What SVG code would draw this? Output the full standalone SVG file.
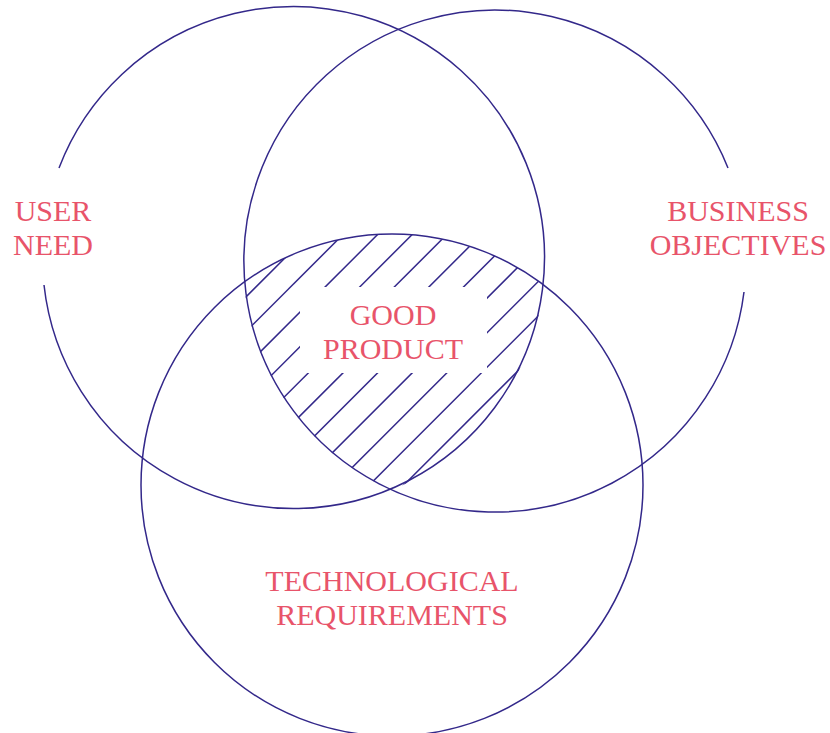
<svg xmlns="http://www.w3.org/2000/svg" width="830" height="733" viewBox="0 0 830 733">
  <style>
    .ring { fill: none; stroke: #33288a; stroke-width: 1.5; }
    .hatch { stroke: #33288a; stroke-width: 1.5; fill: none; }
    .label { font-family: "Liberation Serif", "DejaVu Serif", serif; font-size: 30px; fill: #e8546a; text-anchor: middle; }
  </style>
  <defs>
    <clipPath id="clipLeft"><circle cx="294" cy="259" r="251"/></clipPath>
    <clipPath id="clipRight" clip-path="url(#clipLeft)"><circle cx="494" cy="261" r="251"/></clipPath>
    <clipPath id="clipAll" clip-path="url(#clipRight)"><circle cx="392" cy="485" r="251"/></clipPath>
    <mask id="textGap" maskUnits="userSpaceOnUse" x="0" y="0" width="830" height="733">
      <rect x="0" y="0" width="830" height="733" fill="#fff"/>
      <rect x="300" y="287" width="187" height="86" fill="#000"/>
    </mask>
  </defs>
  <rect width="830" height="733" fill="#fff"/>
  <g id="connectors"/>
  <g id="user-need">
    <path class="ring" d="M 59 168 A 251 251 0 1 1 44 285"/>
    <text class="label" x="53" y="221">USER</text>
    <text class="label" x="53" y="255">NEED</text>
  </g>
  <g id="business-objectives">
    <path class="ring" d="M 744 292 A 251 251 0 1 1 728 168"/>
    <text class="label" x="738" y="221">BUSINESS</text>
    <text class="label" x="738" y="255">OBJECTIVES</text>
  </g>
  <g id="technological-requirements">
    <circle class="ring" cx="392" cy="485" r="251"/>
    <text class="label" x="392" y="591">TECHNOLOGICAL</text>
    <text class="label" x="392" y="625">REQUIREMENTS</text>
  </g>
  <g id="good-product">
    <g clip-path="url(#clipAll)">
      <g class="hatch" mask="url(#textGap)">
        <line x1="362.9" y1="180" x2="22.9" y2="520"/>
        <line x1="397.5" y1="180" x2="57.5" y2="520"/>
        <line x1="432.1" y1="180" x2="92.1" y2="520"/>
        <line x1="466.7" y1="180" x2="126.7" y2="520"/>
        <line x1="501.3" y1="180" x2="161.3" y2="520"/>
        <line x1="535.9" y1="180" x2="195.9" y2="520"/>
        <line x1="570.5" y1="180" x2="230.5" y2="520"/>
        <line x1="605.1" y1="180" x2="265.1" y2="520"/>
        <line x1="639.7" y1="180" x2="299.7" y2="520"/>
        <line x1="674.3" y1="180" x2="334.3" y2="520"/>
        <line x1="708.9" y1="180" x2="368.9" y2="520"/>
        <line x1="743.5" y1="180" x2="403.5" y2="520"/>
      </g>
    </g>
    <text class="label" x="393" y="325">GOOD</text>
    <text class="label" x="393" y="359">PRODUCT</text>
  </g>
</svg>
